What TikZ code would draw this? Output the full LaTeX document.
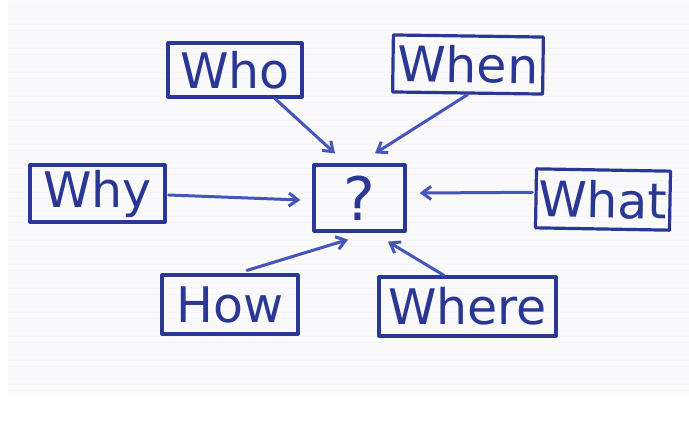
\documentclass[tikz,border=0pt]{standalone}
\usepackage{fontspec}
\setmainfont{DejaVu Sans}
\usetikzlibrary{arrows.meta}
\definecolor{ink}{RGB}{42,55,148}
\definecolor{inkarrow}{RGB}{68,86,188}
\definecolor{paper}{RGB}{250,250,252}
\begin{document}
\begin{tikzpicture}[x=1pt,y=-1pt,
  wbox/.style={draw=ink, line width=3.2pt, rectangle, inner sep=0pt, text=ink,
    font=\fontsize{49}{52}\selectfont, line join=round},
  arr/.style={draw=inkarrow, line width=3pt, line cap=round,
    -{Straight Barb[length=9pt,width=13pt,line width=3pt]}}]
\useasboundingbox (0,0) rectangle (689,421);
\fill[white] (0,0) rectangle (689,421);
\fill[paper] (8,0) rectangle (689,393);
\foreach \yy in {6,12,...,390} \draw[gray!6, line width=0.6pt] (8,\yy) -- (689,\yy);

\node[wbox, minimum width=134pt, minimum height=54pt] (who) at (235,70) {Who};
\node[wbox, minimum width=150pt, minimum height=57pt, rotate=-0.8] (when) at (468,64.5) {When};
\node[wbox, minimum width=135pt, minimum height=57pt] (why) at (97.5,193.5) {Why};
\node[wbox, minimum width=91pt, minimum height=66pt, font=\fontsize{60}{64}\selectfont] (q) at (359.5,198) {?};
\node[wbox, minimum width=134pt, minimum height=59pt, rotate=-1] (what) at (603,199.5) {What};
\node[wbox, minimum width=136pt, minimum height=59pt] (how) at (230,304.5) {How};
\node[wbox, minimum width=177pt, minimum height=59pt] (where) at (467.5,306.5) {Where};

\draw[arr] ([xshift=40pt]who.south) -- ([xshift=-24.5pt,yshift=10pt]q.north);
\draw[arr] (when.south) -- ([xshift=15.5pt,yshift=10pt]q.north);
\draw[arr] ([xshift=2pt,yshift=-1.5pt]why.east) -- ([xshift=-12pt,yshift=-2pt]q.west);
\draw[arr] ([xshift=-2pt,yshift=6pt]what.west) -- ([xshift=13pt,yshift=5pt]q.east);
\draw[arr] ([xshift=17pt,yshift=3pt]how.north) -- ([xshift=-11.5pt,yshift=-7pt]q.south);
\draw[arr] ([xshift=-23.5pt]where.north) -- ([xshift=28.5pt,yshift=-9pt]q.south);
\end{tikzpicture}
\end{document}
